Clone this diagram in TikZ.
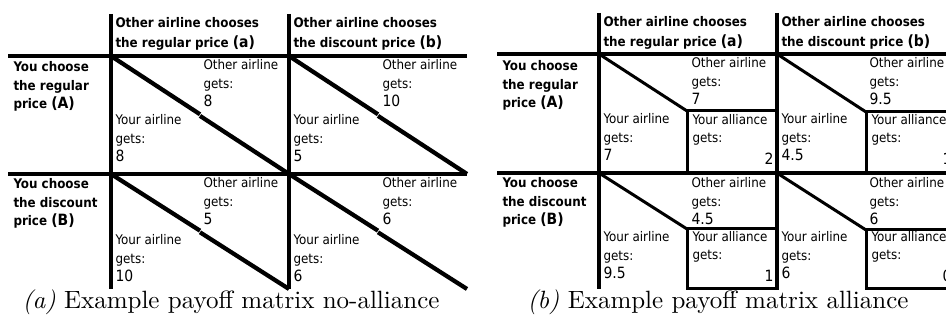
\documentclass[tikz,border=0pt]{standalone}
\usepackage{fontspec}
\usepackage{xcolor}
\usepackage{tikz}
\newfontfamily\cellfont{DejaVu Sans Condensed}
\definecolor{PMInk}{HTML}{000000}
\newcommand{\valsize}{\fontsize{6.2}{8}\selectfont}

\begin{document}
\begin{tikzpicture}[x=0.4pt,y=-0.4pt,
  gridN/.style={PMInk,line width=1.9pt},
  diagN/.style={PMInk,line width=1.7pt},
  gridA/.style={PMInk,line width=1.7pt},
  thinA/.style={PMInk,line width=1.2pt},
  cell/.style={anchor=base west,inner sep=0pt,align=left,font=\cellfont\fontsize{5.3}{7.5}\selectfont},
  head/.style={cell,font=\cellfont\bfseries\fontsize{5.3}{7.4}\selectfont},
  colhead/.style={cell,font=\cellfont\bfseries\fontsize{5.3}{8}\selectfont},
  value/.style={anchor=base east,inner sep=0pt,font=\cellfont\valsize},
  caption/.style={anchor=base,inner sep=0pt,font=\fontsize{10}{12}\selectfont}]
\path[use as bounding box] (0,0) rectangle (946,325);
\clip (0,0) rectangle (946,325);
\draw[gridN] (111,14) -- (111,289);
\draw[gridN] (289,14) -- (289,289);
\draw[gridN] (8,56) -- (467,56);
\draw[gridN] (8,174) -- (467,174);
\draw[diagN] (111,56) -- (200,114.3);
\draw[diagN] (200,115.9) -- (289,174);
\draw[diagN] (289,56) -- (378,114.3);
\draw[diagN] (378,115.9) -- (467,174);
\draw[diagN] (111,174) -- (200,230.7);
\draw[diagN] (200,232.3) -- (289,289);
\draw[diagN] (289,174) -- (378,230.7);
\draw[diagN] (378,232.3) -- (467,289);
\node[colhead] (noColA) at (115,48) {Other airline chooses\\the regular price {\valsize(a)}};
\node[colhead] (noColB) at (293,48) {Other airline chooses\\the discount price {\valsize(b)}};
\node[head] (noRowA) at (13,109) {You choose\\the regular\\price {\valsize(A)}};
\node[head] (noRowB) at (13,226) {You choose\\the discount\\price {\valsize(B)}};
\node[cell] (noOthAa) at (203,107) {Other airline\\gets:\\{\valsize 8}};
\node[cell] (noYouAa) at (115,162) {Your airline\\gets:\\{\valsize 8}};
\node[cell] (noOthAb) at (382,107) {Other airline\\gets:\\{\valsize 10}};
\node[cell] (noYouAb) at (293,162) {Your airline\\gets:\\{\valsize 5}};
\node[cell] (noOthBa) at (203,225) {Other airline\\gets:\\{\valsize 5}};
\node[cell] (noYouBa) at (115,282) {Your airline\\gets:\\{\valsize 10}};
\node[cell] (noOthBb) at (382,225) {Other airline\\gets:\\{\valsize 6}};
\node[cell] (noYouBb) at (293,282) {Your airline\\gets:\\{\valsize 6}};
\node[caption] (noCap) at (231,309) {\textit{(a)} Example payoff matrix no-alliance};
\draw[gridA] (599,13) -- (599,289);
\draw[gridA] (777,13) -- (777,289);
\draw[gridA] (497,54) -- (960,54);
\draw[gridA] (497,173) -- (960,173);
\draw[thinA] (599,54) -- (687,111);
\draw[thinA] (777,54) -- (866,112);
\draw[thinA] (599,173) -- (687,229);
\draw[thinA] (777,173) -- (866,230);
\draw[thinA] (687,111) rectangle (777,173);
\draw[thinA] (866,112) rectangle (955,173);
\draw[thinA] (687,229) rectangle (777,289);
\draw[thinA] (866,230) rectangle (955,289);
\node[colhead] (alColA) at (603,47) {Other airline chooses\\the regular price {\valsize(a)}};
\node[colhead] (alColB) at (781,47) {Other airline chooses\\the discount price {\valsize(b)}};
\node[head] (alRowA) at (502,108) {You choose\\the regular\\price {\valsize(A)}};
\node[head] (alRowB) at (502,225) {You choose\\the discount\\price {\valsize(B)}};
\node[cell] (alOthAa) at (691,105) {Other airline\\gets:\\{\valsize 7}};
\node[cell] (alYouAa) at (603,161) {Your airline\\gets:\\{\valsize 7}};
\node[cell] (alAllAa) at (692,143) {Your alliance\\gets:};
\node[value] (alValAa) at (774,165) {2};
\node[cell] (alOthAb) at (869,105) {Other airline\\gets:\\{\valsize 9.5}};
\node[cell] (alYouAb) at (781,161) {Your airline\\gets:\\{\valsize 4.5}};
\node[cell] (alAllAb) at (871,143) {Your alliance\\gets:};
\node[value] (alValAb) at (952,165) {1};
\node[cell] (alOthBa) at (691,225) {Other airline\\gets:\\{\valsize 4.5}};
\node[cell] (alYouBa) at (603,279) {Your airline\\gets:\\{\valsize 9.5}};
\node[cell] (alAllBa) at (692,260) {Your alliance\\gets:};
\node[value] (alValBa) at (774,282) {1};
\node[cell] (alOthBb) at (869,225) {Other airline\\gets:\\{\valsize 6}};
\node[cell] (alYouBb) at (781,279) {Your airline\\gets:\\{\valsize 6}};
\node[cell] (alAllBb) at (871,260) {Your alliance\\gets:};
\node[value] (alValBb) at (952,282) {0};
\node[caption] (alCap) at (718,309) {\textit{(b)} Example payoff matrix alliance};
\end{tikzpicture}
\end{document}
